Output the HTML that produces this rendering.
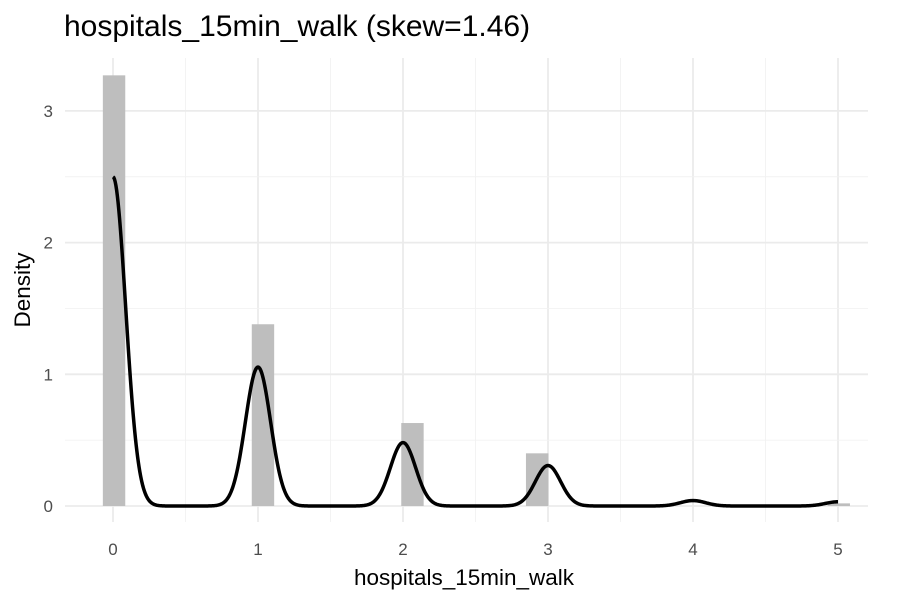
<!DOCTYPE html>
<html><head><meta charset="utf-8"><style>
body{margin:0;background:#fff}
svg{display:block;font-family:"Liberation Sans",Arial,sans-serif}
</style></head><body>
<svg id="chart" width="900" height="600" viewBox="0 0 900 600">
<text x="64" y="36" font-size="30" fill="#000">hospitals_15min_walk (skew=1.46)</text>
<g id="grid"></g><g id="bars"></g><g id="curve"></g><g id="axes"></g>
<text x="464" y="585" font-size="22.5" text-anchor="middle" fill="#000">hospitals_15min_walk</text>
<text transform="translate(30,290) rotate(-90)" font-size="22.5" text-anchor="middle" fill="#000">Density</text>
</svg>
<script>
const categories=[0,1,2,3,4,5];
const binLeft=[-0.07,0.957,1.988,2.848,3.88,4.928];
const barDensity=[3.27,1.38,0.63,0.40,0.0,0.02];
const kdeWeights=[0.545,0.23,0.105,0.067,0.009,0.007];
const xTicks=["0","1","2","3","4","5"];
const yTicks=["0","1","2","3"];
const bandwidth=0.087;
const binWidth=0.1545;
const NS="http://www.w3.org/2000/svg";
const X0=65,X1=868,Y0=58,Y1=522;
const xs=v=>113+v*145;
const ys=v=>506-v*131.7;
function mk(tag,attrs,parent){const e=document.createElementNS(NS,tag);for(const k in attrs)e.setAttribute(k,attrs[k]);parent.appendChild(e);return e;}
const grid=document.getElementById('grid'),bars=document.getElementById('bars'),curve=document.getElementById('curve'),axes=document.getElementById('axes');
for(let i=0;i<xTicks.length;i++){
 const v=+xTicks[i];
 const l=mk('line',{x1:xs(v),x2:xs(v),y1:Y0,y2:Y1,stroke:'#ebebeb','stroke-width':1.8},grid);
 
 
 if(i<xTicks.length-1){const m=mk('line',{x1:xs(v+0.5),x2:xs(v+0.5),y1:Y0,y2:Y1,stroke:'#f2f2f2','stroke-width':0.9},grid);
 
 }
 const t=mk('text',{x:xs(v),y:555,'font-size':17,'text-anchor':'middle',fill:'#4d4d4d'},axes);t.textContent=xTicks[i];
 
 
}
for(let i=0;i<yTicks.length;i++){
 const v=+yTicks[i];
 const l=mk('line',{x1:X0,x2:X1,y1:ys(v),y2:ys(v),stroke:'#ebebeb','stroke-width':1.8},grid);
 
 
 if(ys(v+0.5)>Y0){const m=mk('line',{x1:X0,x2:X1,y1:ys(v+0.5),y2:ys(v+0.5),stroke:'#f2f2f2','stroke-width':0.9},grid);
 
 }
 const t=mk('text',{x:53,y:ys(v)+6,'font-size':17,'text-anchor':'end',fill:'#4d4d4d'},axes);t.textContent=yTicks[i];
 
 
}
for(let i=0;i<categories.length;i++){
 if(barDensity[i]<=0)continue;
 const x=xs(binLeft[i]),w=xs(binLeft[i]+binWidth)-x;
 const r=mk('rect',{x:x,y:ys(barDensity[i]),width:w,height:ys(0)-ys(barDensity[i]),fill:'#bebebe'},bars);
 
 
}
let d='';
for(let k=0;k<=1000;k++){
 const x=5*k/1000;let y=0;
 for(let i=0;i<categories.length;i++){const z=(x-categories[i])/bandwidth;y+=kdeWeights[i]*Math.exp(-z*z/2)/(bandwidth*Math.sqrt(2*Math.PI));}
 d+=(k?'L':'M')+xs(x).toFixed(2)+','+ys(y).toFixed(2);
}
const p=mk('path',{d:d,fill:'none',stroke:'#000','stroke-width':3.5},curve);


</script>
</body></html>
